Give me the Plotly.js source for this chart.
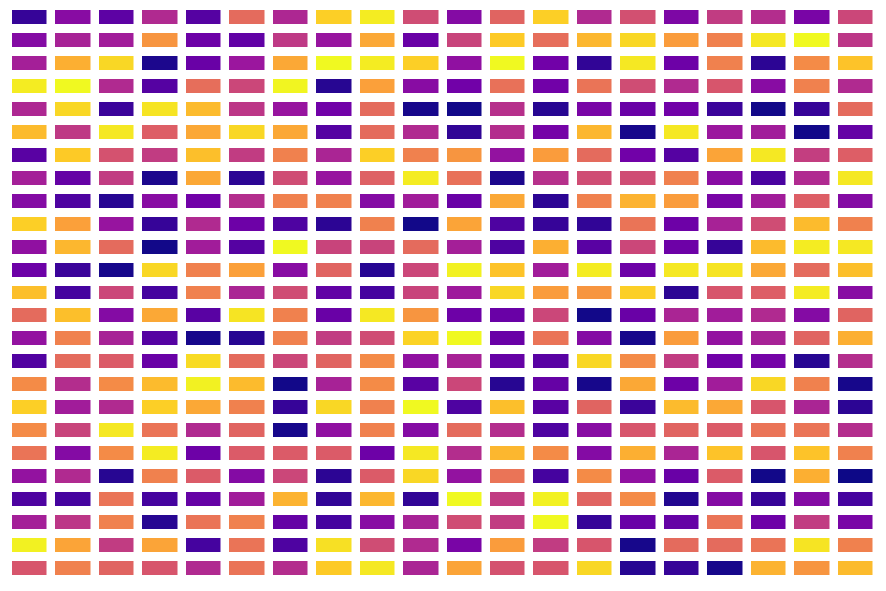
<!DOCTYPE html>
<html>
<head>
<meta charset="utf-8">
<script src="https://cdn.plot.ly/plotly-3.0.1.min.js"></script>
<style>html,body{margin:0;padding:0;background:#fff;}#chart{width:886px;height:591px;}</style>
</head>
<body>
<div id="chart"></div>
<script>
// Column and row categories
const columns = ["C1","C2","C3","C4","C5","C6","C7","C8","C9","C10","C11","C12","C13","C14","C15","C16","C17","C18","C19","C20"];
const rows = ["R1","R2","R3","R4","R5","R6","R7","R8","R9","R10","R11","R12","R13","R14","R15","R16","R17","R18","R19","R20","R21","R22","R23","R24","R25"];

// Values per row (top to bottom)
const r01 = [0.08,0.28,0.17,0.40,0.15, 0.62,0.39,0.90,0.97,0.52, 0.27,0.60,0.90,0.40,0.53, 0.25,0.46,0.41,0.24,0.50];
const r02 = [0.27,0.37,0.35,0.75,0.21, 0.18,0.45,0.32,0.80,0.20, 0.49,0.89,0.63,0.84,0.92, 0.77,0.69,0.96,1.00,0.44];
const r03 = [0.36,0.82,0.92,0.03,0.20, 0.33,0.80,1.00,0.97,0.90, 0.30,1.00,0.22,0.07,0.96, 0.21,0.69,0.06,0.72,0.87];
const r04 = [0.97,1.00,0.40,0.15,0.63, 0.50,0.99,0.05,0.78,0.28, 0.22,0.64,0.22,0.65,0.52, 0.40,0.55,0.28,0.69,0.40];
const r05 = [0.39,0.92,0.09,0.95,0.85, 0.44,0.32,0.22,0.62,0.02, 0.01,0.42,0.05,0.24,0.20, 0.22,0.09,0.01,0.08,0.62];
const r06 = [0.85,0.45,0.96,0.58,0.80, 0.92,0.80,0.15,0.62,0.40, 0.07,0.41,0.23,0.84,0.02, 0.96,0.33,0.35,0.01,0.19];
const r07 = [0.16,0.89,0.54,0.46,0.86, 0.46,0.69,0.38,0.90,0.69, 0.75,0.31,0.77,0.62,0.22, 0.15,0.79,0.96,0.47,0.58];
const r08 = [0.36,0.19,0.46,0.03,0.80, 0.06,0.52,0.32,0.59,0.97, 0.64,0.03,0.42,0.52,0.52, 0.69,0.28,0.12,0.40,0.96];
const r09 = [0.27,0.13,0.05,0.28,0.22, 0.41,0.69,0.69,0.27,0.35, 0.20,0.80,0.06,0.69,0.83, 0.77,0.24,0.35,0.58,0.27];
const r10 = [0.90,0.78,0.32,0.08,0.40, 0.21,0.13,0.06,0.69,0.01, 0.79,0.13,0.08,0.07,0.65, 0.21,0.37,0.52,0.85,0.69];
const r11 = [0.30,0.84,0.62,0.01,0.35, 0.15,1.00,0.49,0.49,0.62, 0.36,0.13,0.82,0.16,0.50, 0.21,0.08,0.85,0.97,0.96];
const r12 = [0.21,0.09,0.02,0.92,0.69, 0.78,0.28,0.60,0.05,0.50, 0.98,0.87,0.35,0.97,0.21, 0.96,0.95,0.80,0.62,0.86];
const r13 = [0.86,0.11,0.50,0.11,0.69, 0.38,0.52,0.18,0.11,0.49, 0.34,0.92,0.77,0.75,0.90, 0.06,0.55,0.58,0.97,0.28];
const r14 = [0.62,0.86,0.27,0.80,0.16, 0.95,0.69,0.20,0.96,0.75, 0.21,0.20,0.50,0.01,0.20, 0.38,0.35,0.40,0.27,0.60];
const r15 = [0.31,0.69,0.37,0.15,0.02, 0.05,0.69,0.46,0.52,0.91, 1.00,0.20,0.65,0.27,0.02, 0.77,0.31,0.37,0.60,0.82];
const r16 = [0.14,0.62,0.57,0.20,0.93, 0.62,0.50,0.60,0.72,0.30, 0.37,0.19,0.16,0.92,0.72, 0.46,0.22,0.23,0.05,0.41];
const r17 = [0.72,0.41,0.72,0.85,0.98, 0.85,0.01,0.37,0.72,0.16, 0.50,0.05,0.19,0.02,0.80, 0.21,0.35,0.92,0.69,0.02];
const r18 = [0.90,0.35,0.40,0.90,0.80, 0.69,0.08,0.92,0.69,1.00, 0.13,0.86,0.16,0.60,0.09, 0.85,0.80,0.55,0.38,0.06];
const r19 = [0.72,0.49,0.96,0.65,0.40, 0.60,0.02,0.30,0.69,0.27, 0.62,0.41,0.13,0.28,0.55, 0.60,0.57,0.65,0.65,0.41];
const r20 = [0.65,0.27,0.72,0.97,0.21, 0.57,0.57,0.57,0.21,0.96, 0.41,0.84,0.72,0.27,0.82, 0.38,0.87,0.55,0.87,0.69];
const r21 = [0.31,0.40,0.05,0.69,0.57, 0.27,0.50,0.06,0.57,0.92, 0.31,0.65,0.11,0.72,0.30, 0.20,0.57,0.01,0.82,0.00];
const r22 = [0.13,0.11,0.65,0.11,0.19, 0.35,0.83,0.07,0.84,0.07, 1.00,0.46,0.98,0.60,0.72, 0.04,0.27,0.08,0.27,0.11];
const r23 = [0.36,0.44,0.69,0.05,0.65, 0.69,0.19,0.11,0.28,0.37, 0.52,0.46,1.00,0.08,0.20, 0.19,0.65,0.21,0.46,0.24];
const r24 = [0.98,0.79,0.46,0.79,0.11, 0.65,0.13,0.94,0.52,0.40, 0.24,0.77,0.46,0.55,0.02, 0.62,0.62,0.65,0.95,0.69];
const r25 = [0.55,0.69,0.60,0.55,0.40, 0.65,0.41,0.89,0.96,0.38, 0.79,0.54,0.55,0.92,0.05, 0.08,0.02,0.83,0.75,0.85];

const z = [r01,r02,r03,r04,r05,r06,r07,r08,r09,r10,r11,r12,r13,r14,r15,r16,r17,r18,r19,r20,r21,r22,r23,r24,r25];

// Plasma colour scale
const plasma = [
  [0.000, '#0d0887'], [0.111, '#46039f'], [0.222, '#7201a8'], [0.333, '#9c179e'],
  [0.444, '#bd3786'], [0.556, '#d8576b'], [0.667, '#ed7953'], [0.778, '#fb9f3a'],
  [0.889, '#fdca26'], [1.000, '#f0f921']
];

const trace = {
  type: 'heatmap',
  x: columns,
  y: rows,
  z: z,
  colorscale: plasma,
  zmin: 0,
  zmax: 1,
  showscale: false,
  xgap: 8.5,
  ygap: 9,
  hoverongaps: false
};

const layout = {
  width: 886,
  height: 591,
  margin: {l: 8, r: 9, t: 6, b: 11, pad: 0},
  paper_bgcolor: '#ffffff',
  plot_bgcolor: '#ffffff',
  xaxis: {visible: false, showgrid: false, zeroline: false},
  yaxis: {visible: false, showgrid: false, zeroline: false, autorange: 'reversed'}
};

Plotly.newPlot('chart', [trace], layout, {displayModeBar: false, staticPlot: true});
</script>
</body>
</html>
